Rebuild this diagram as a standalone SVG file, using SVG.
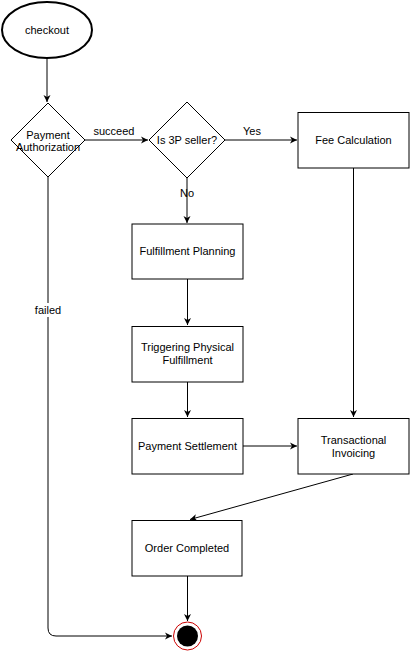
<svg xmlns="http://www.w3.org/2000/svg" width="410" height="651" viewBox="0 0 410 651">
<style>
.shape{fill:#fff;stroke:#000;stroke-width:1}
.t{font-family:"Liberation Sans",Arial,sans-serif;font-size:11px;fill:#000;text-anchor:middle}
.edge{fill:none;stroke:#000;stroke-width:1}
</style>
<defs>
<marker id="arr" markerWidth="8" markerHeight="8" refX="7" refY="4" orient="auto" markerUnits="userSpaceOnUse">
<path d="M0,0.5 L7,4 L0,7.5 L2,4 Z" fill="#000"/>
</marker>
</defs>
<rect width="410" height="651" fill="#fff"/>
<g id="connectors">
<path class="edge" d="M47,58 L47,102" marker-end="url(#arr)"/>
<path class="edge" d="M85,140 L148,140" marker-end="url(#arr)"/>
<path class="edge" d="M225,140 L297,140" marker-end="url(#arr)"/>
<path class="edge" d="M187,178 L187,223" marker-end="url(#arr)"/>
<path class="edge" d="M187.5,279 L187.5,325" marker-end="url(#arr)"/>
<path class="edge" d="M187.5,382 L187.5,417" marker-end="url(#arr)"/>
<path class="edge" d="M243,446 L297,446" marker-end="url(#arr)"/>
<path class="edge" d="M353.5,168 L353.5,417" marker-end="url(#arr)"/>
<path class="edge" d="M353,474 L190,519.5" marker-end="url(#arr)"/>
<path class="edge" d="M187.5,576 L187.5,621" marker-end="url(#arr)"/>
<path class="edge" d="M48,177 L48,628 Q48,636 56,636 L172,636" marker-end="url(#arr)"/>
<text class="t" x="114" y="135">succeed</text>
<text class="t" x="252" y="135">Yes</text>
<text class="t" x="187" y="197">No</text>
<rect x="33" y="303" width="30" height="14" fill="#fff"/>
<text class="t" x="48" y="314">failed</text>
</g>
<g id="checkout">
<ellipse cx="47" cy="30" rx="45" ry="28" fill="#fff" stroke="#000" stroke-width="2"/>
<text class="t" x="47" y="34">checkout</text>
</g>
<g id="payment-authorization">
<polygon class="shape" points="48,103 85,140 48,177 11,140"/>
<text class="t" x="48" y="139">Payment</text>
<text class="t" x="48" y="151">Authorization</text>
</g>
<g id="is-3p-seller">
<polygon class="shape" points="187,102 225,140 187,178 149,140"/>
<text class="t" x="187" y="144">Is 3P seller?</text>
</g>
<g id="fee-calculation">
<rect class="shape" x="298" y="112.5" width="111" height="55.5"/>
<text class="t" x="353.5" y="144">Fee Calculation</text>
</g>
<g id="fulfillment-planning">
<rect class="shape" x="132" y="224" width="111" height="55"/>
<text class="t" x="187.5" y="255">Fulfillment Planning</text>
</g>
<g id="triggering-physical-fulfillment">
<rect class="shape" x="132" y="326.5" width="111" height="55.5"/>
<text class="t" x="187.5" y="351">Triggering Physical</text>
<text class="t" x="187.5" y="364">Fulfillment</text>
</g>
<g id="payment-settlement">
<rect class="shape" x="132" y="418.5" width="111" height="55.5"/>
<text class="t" x="187.5" y="450">Payment Settlement</text>
</g>
<g id="transactional-invoicing">
<rect class="shape" x="298" y="418.5" width="111" height="55.5"/>
<text class="t" x="353.5" y="444">Transactional</text>
<text class="t" x="353.5" y="457">Invoicing</text>
</g>
<g id="order-completed">
<rect class="shape" x="132" y="520.5" width="110" height="55.5"/>
<text class="t" x="187" y="552">Order Completed</text>
</g>
<g id="end">
<circle cx="187.5" cy="636" r="14" fill="#fff" stroke="#c00" stroke-width="1"/>
<circle cx="187.5" cy="636" r="10.5" fill="#000"/>
</g>
</svg>
